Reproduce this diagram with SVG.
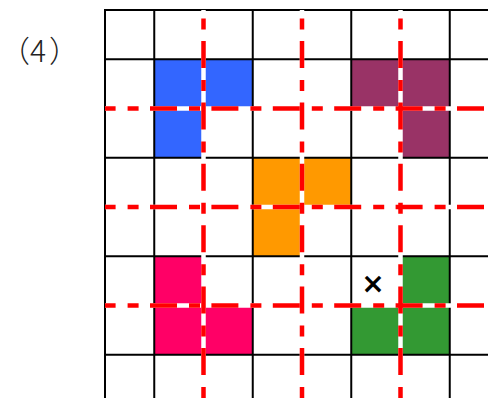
<svg xmlns="http://www.w3.org/2000/svg" width="488" height="398" viewBox="0 0 488 398">
<style>
.grid line{stroke:#000;stroke-width:2}
.under line{stroke:#fff;stroke-width:4.5}
.dash line{stroke:#f00;stroke-width:4.5;stroke-dasharray:27 12 11 11.4}
.dash .v{stroke-dashoffset:30.4}
.dash .h{stroke-dashoffset:16.4}
.blue{fill:#3366ff}.purple{fill:#993366}.orange{fill:#ff9900}.pink{fill:#ff0066}.green{fill:#339933}
</style>
<rect width="488" height="398" fill="#fff"/>
<g id="blue-piece" class="blue">
<rect x="154.25" y="59.25" width="98.5" height="49.25"/>
<rect x="154.25" y="108.5" width="49.25" height="49.25"/>
</g>
<g id="purple-piece" class="purple">
<rect x="351.25" y="59.25" width="98.5" height="49.25"/>
<rect x="400.5" y="108.5" width="49.25" height="49.25"/>
</g>
<g id="orange-piece" class="orange">
<rect x="252.75" y="157.75" width="98.5" height="49.25"/>
<rect x="252.75" y="207" width="49.25" height="49.25"/>
</g>
<g id="pink-piece" class="pink">
<rect x="154.25" y="256.25" width="49.25" height="49.25"/>
<rect x="154.25" y="305.5" width="98.5" height="49.25"/>
</g>
<g id="green-piece" class="green">
<rect x="400.5" y="256.25" width="49.25" height="49.25"/>
<rect x="351.25" y="305.5" width="98.5" height="49.25"/>
</g>
<g id="grid" class="grid">
<line x1="105" y1="10" x2="105" y2="398"/>
<line x1="154.25" y1="10" x2="154.25" y2="398"/>
<line x1="203.5" y1="10" x2="203.5" y2="398"/>
<line x1="252.75" y1="10" x2="252.75" y2="398"/>
<line x1="302" y1="10" x2="302" y2="398"/>
<line x1="351.25" y1="10" x2="351.25" y2="398"/>
<line x1="400.5" y1="10" x2="400.5" y2="398"/>
<line x1="449.75" y1="10" x2="449.75" y2="398"/>
<line x1="104" y1="10" x2="488" y2="10"/>
<line x1="104" y1="59.25" x2="488" y2="59.25"/>
<line x1="104" y1="108.5" x2="488" y2="108.5"/>
<line x1="104" y1="157.75" x2="488" y2="157.75"/>
<line x1="104" y1="207" x2="488" y2="207"/>
<line x1="104" y1="256.25" x2="488" y2="256.25"/>
<line x1="104" y1="305.5" x2="488" y2="305.5"/>
<line x1="104" y1="354.75" x2="488" y2="354.75"/>
</g>
<g id="connectors">
<g class="under">
<line x1="203.5" y1="10" x2="203.5" y2="398"/>
<line x1="302" y1="10" x2="302" y2="398"/>
<line x1="400.5" y1="10" x2="400.5" y2="398"/>
<line x1="105" y1="108.5" x2="488" y2="108.5"/>
<line x1="105" y1="207" x2="488" y2="207"/>
<line x1="105" y1="305.5" x2="488" y2="305.5"/>
</g>
<g class="dash">
<line class="v" x1="203.5" y1="10" x2="203.5" y2="398"/>
<line class="v" x1="302" y1="10" x2="302" y2="398"/>
<line class="v" x1="400.5" y1="10" x2="400.5" y2="398"/>
<line class="h" x1="105" y1="108.5" x2="488" y2="108.5"/>
<line class="h" x1="105" y1="207" x2="488" y2="207"/>
<line class="h" x1="105" y1="305.5" x2="488" y2="305.5"/>
</g>
</g>
<text id="mark" x="373" y="293" text-anchor="middle" font-family="DejaVu Sans, sans-serif" font-size="28" font-weight="bold" fill="#000">×</text>
<text id="label" x="0 30 49" y="62" font-family="'Noto Sans CJK SC', sans-serif" font-size="30" font-weight="300" fill="#222">（4）</text>
</svg>
